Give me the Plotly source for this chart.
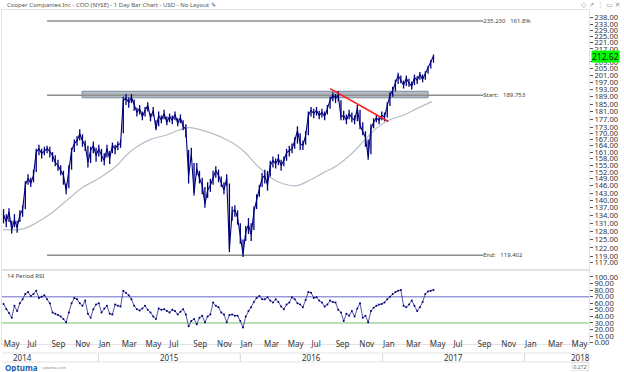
import math
import pandas as pd
import plotly.graph_objects as go

# ---------------- data ----------------
week_dates = pd.date_range("2014-05-02", periods=159, freq="7D")

close = [
    134.3, 131.6, 135.4, 128.6, 132.4, 129.3, 134.3, 136.2, 146.3, 149.2,
    147.1, 150.5, 161.0, 162.6, 160.3, 161.7, 162.6, 161.2, 159.4, 156.2,
    154.9, 152.6, 150.5, 144.2, 153.5, 161.7, 165.0, 166.4, 169.8, 166.4,
    164.1, 156.2, 161.7, 164.1, 159.4, 162.6, 159.4, 157.1, 162.6, 158.0,
    164.1, 162.6, 164.5, 165.0, 187.0, 188.1, 185.9, 188.6, 184.8, 180.6,
    182.7, 178.3, 181.6, 184.3, 177.8, 181.6, 172.3, 179.0, 176.5, 180.0,
    175.5, 178.5, 176.5, 179.5, 175.0, 177.8, 173.4, 172.0, 150.0, 160.0,
    143.0, 153.5, 149.2, 146.3, 138.5, 144.2, 146.3, 149.2, 152.6, 150.5,
    147.5, 144.2, 149.2, 121.5, 135.4, 136.2, 133.1, 126.8, 119.8, 127.8,
    130.5, 126.8, 135.4, 140.2, 144.2, 149.2, 150.5, 146.3, 154.9, 157.1,
    155.7, 158.0, 154.9, 157.1, 160.7, 161.7, 162.6, 166.4, 171.3, 165.0,
    164.1, 168.8, 179.0, 181.6, 180.0, 181.6, 179.0, 180.6, 178.5, 182.7,
    187.0, 189.8, 188.1, 189.8, 178.3, 179.0, 176.5, 180.0, 177.8, 176.5,
    182.7, 174.0, 171.3, 167.9, 158.8, 172.3, 175.5, 177.8, 176.5, 179.0,
    178.3, 184.3, 189.8, 192.5, 196.9, 201.0, 198.2, 195.4, 199.3, 196.5,
    194.8, 199.9, 198.2, 201.6, 198.7, 202.2, 205.2, 208.7, 212.62,
]

high = [
    136.5, 134.5, 136.8, 132.0, 134.5, 132.0, 136.0, 138.0, 148.0, 151.0,
    149.5, 153.0, 162.5, 164.5, 162.5, 163.5, 164.0, 163.5, 161.0, 159.5,
    157.5, 155.0, 152.5, 147.0, 155.0, 163.0, 167.0, 168.5, 172.0, 169.5,
    166.5, 164.0, 163.5, 166.0, 163.0, 164.5, 162.5, 160.5, 164.5, 161.5,
    165.5, 164.5, 166.0, 167.0, 189.0, 190.5, 188.5, 190.5, 187.5, 183.0,
    184.5, 181.0, 183.5, 186.0, 180.0, 183.5, 176.5, 181.0, 179.0, 182.0,
    178.5, 180.0, 179.0, 181.0, 177.5, 179.5, 176.5, 174.5, 162.0, 163.0,
    156.0, 156.0, 152.5, 149.5, 145.5, 147.5, 149.0, 152.5, 154.5, 153.0,
    150.0, 147.5, 151.0, 147.0, 137.5, 138.0, 136.0, 131.0, 125.0, 130.0,
    133.0, 131.0, 137.5, 142.5, 146.5, 151.5, 153.0, 152.5, 157.0, 159.0,
    158.0, 160.0, 157.5, 159.0, 162.5, 164.0, 165.0, 168.0, 173.5, 170.0,
    166.5, 171.0, 181.0, 183.5, 182.5, 183.5, 181.5, 182.5, 181.0, 184.5,
    189.0, 191.5, 190.5, 192.0, 187.0, 181.5, 179.5, 182.0, 180.5, 179.0,
    184.5, 182.0, 175.5, 171.0, 167.0, 174.5, 177.5, 179.5, 178.5, 181.0,
    180.5, 186.0, 191.5, 194.5, 198.5, 202.5, 201.0, 198.0, 201.0, 199.0,
    197.5, 201.5, 200.5, 203.0, 201.5, 203.5, 206.5, 210.0, 213.5,
]

low = [
    131.0, 129.5, 131.5, 127.2, 129.5, 127.5, 131.5, 133.5, 136.5, 146.5,
    145.5, 147.5, 152.0, 159.5, 158.0, 159.5, 160.5, 158.5, 156.5, 154.5,
    152.5, 150.5, 146.5, 142.5, 145.0, 153.0, 161.0, 164.0, 166.5, 163.5,
    161.5, 154.0, 156.0, 160.5, 156.5, 159.0, 156.5, 155.0, 158.5, 155.5,
    160.5, 160.0, 162.0, 163.0, 170.0, 184.5, 183.0, 185.5, 181.5, 178.5,
    179.5, 176.5, 178.5, 181.0, 176.0, 178.5, 171.5, 173.5, 175.0, 177.0,
    174.0, 175.5, 174.5, 176.5, 173.5, 175.0, 171.5, 168.0, 147.0, 157.5,
    142.0, 150.5, 147.0, 142.5, 137.0, 141.0, 143.5, 146.5, 149.5, 147.5,
    145.5, 142.5, 146.0, 120.5, 132.0, 133.5, 130.5, 123.5, 118.8, 124.5,
    127.0, 124.5, 128.5, 136.5, 141.5, 145.5, 147.0, 144.0, 150.0, 154.0,
    153.5, 155.0, 152.5, 154.5, 157.0, 159.0, 160.5, 162.5, 165.0, 162.0,
    162.0, 164.5, 169.0, 178.5, 177.5, 179.0, 177.0, 178.0, 176.5, 179.5,
    182.5, 186.5, 185.5, 186.5, 176.5, 176.5, 174.5, 177.0, 175.5, 174.5,
    176.0, 172.0, 169.0, 163.5, 157.5, 160.0, 172.5, 175.5, 174.5, 176.5,
    176.0, 178.0, 184.0, 189.0, 192.0, 196.0, 196.5, 193.5, 195.0, 194.5,
    193.0, 195.5, 196.0, 198.5, 197.0, 198.5, 202.0, 205.0, 208.5,
]

rsi = [
    59, 51, 45, 38, 56, 48, 60, 66, 74, 77,
    71, 74, 79, 68, 70, 72, 66, 60, 46, 44,
    42, 40, 36, 31, 46, 60, 68, 66, 60, 56,
    64, 44, 38, 51, 58, 60, 46, 52, 56, 44,
    43, 58, 56, 55, 79, 76, 72, 66, 56, 51,
    49, 52, 56, 50, 46, 40, 36, 52, 50, 51,
    48, 46, 50, 48, 43, 47, 51, 43, 25, 33,
    36, 28, 38, 41, 31, 40, 43, 61, 56, 54,
    46, 43, 31, 42, 43, 41, 41, 33, 23, 40,
    48, 54, 62, 68, 71, 66, 66, 69, 64, 61,
    66, 62, 55, 51, 58, 61, 69, 66, 60, 58,
    54, 65, 77, 76, 68, 69, 64, 61, 55, 58,
    64, 62, 61, 50, 46, 33, 44, 41, 48, 40,
    52, 60, 38, 41, 31, 48, 53, 56, 58, 59,
    61, 66, 70, 74, 77, 79, 80, 56, 54, 58,
    64, 56, 48, 54, 62, 74, 78, 79, 80,
]

ma_dates = [
    "2014-05-01", "2014-06-21", "2014-07-17", "2014-08-30", "2014-10-13",
    "2014-11-23", "2015-01-05", "2015-02-18", "2015-03-16", "2015-04-11",
    "2015-05-14", "2015-06-27", "2015-08-07", "2015-08-25", "2015-10-15",
    "2015-12-06", "2016-01-08", "2016-02-13", "2016-03-18", "2016-04-20",
    "2016-05-26", "2016-06-29", "2016-08-01", "2016-09-06", "2016-10-09",
    "2016-11-12", "2016-12-18", "2017-01-20", "2017-02-23", "2017-03-31",
    "2017-05-08",
]
ma_values = [
    128.6, 128.9, 130.5, 134.6, 140.2,
    145.5, 149.5, 155.0, 159.9, 163.6,
    166.9, 169.3, 172.3, 172.8, 170.3,
    166.0, 161.7, 154.9, 149.7, 146.9,
    146.1, 148.5, 151.6, 154.9, 159.5,
    165.9, 172.8, 176.8, 179.1, 182.7,
    186.3,
]

level_values = [235.230, 189.753, 119.402]
level_texts = ["235.230   161.8%", "Start:   189.753", "End:   119.402"]
level_dates = ["2014-08-22", "2017-09-17"]

band_dates = ["2014-11-20", "2017-04-28"]
band_values = [188.4, 192.0]

trend_dates = ["2016-08-19", "2017-01-16"]
trend_values = [193.5, 175.9]

last_price = 212.62

price_ticks = [238, 233, 229, 225, 221, 217, 209, 205, 201, 197, 193, 189, 185,
               181, 177, 173, 170, 167, 164, 161, 158, 155, 152, 149, 146, 143,
               140, 137, 134, 131, 128, 125, 122, 119, 117]
rsi_ticks = [0, 10, 20, 30, 40, 50, 60, 70, 80, 90, 100]
rsi_levels = [70, 30]

month_ticks = ["2014-05-01", "2014-07-01", "2014-09-01", "2014-11-01", "2015-01-01",
               "2015-03-01", "2015-05-01", "2015-07-01", "2015-09-01", "2015-11-01",
               "2016-01-01", "2016-03-01", "2016-05-01", "2016-07-01", "2016-09-01",
               "2016-11-01", "2017-01-01", "2017-03-01", "2017-05-01", "2017-07-01",
               "2017-09-01", "2017-11-01", "2018-01-01", "2018-03-01", "2018-05-01"]
month_labels = ["May", "Jul", "Sep", "Nov", "Jan", "Mar", "May", "Jul", "Sep", "Nov",
                "Jan", "Mar", "May", "Jul", "Sep", "Nov", "Jan", "Mar", "May", "Jul",
                "Sep", "Nov", "Jan", "Mar", "May"]
year_labels = ["2014", "2015", "2016", "2017", "2018"]
year_label_dates = ["2014-06-20", "2015-07-02", "2016-07-02", "2017-07-02", "2018-05-24"]
year_bounds = ["2015-01-01", "2016-01-01", "2017-01-01", "2018-01-01"]

x_range = ["2014-04-28", "2018-06-16"]

# ---------------- figure ----------------
FONT = "Noto Sans"
NAVY = "#00007c"

fig = go.Figure()

# resistance band
fig.add_trace(go.Scatter(
    x=[band_dates[0], band_dates[1], band_dates[1], band_dates[0], band_dates[0]],
    y=[band_values[0], band_values[0], band_values[1], band_values[1], band_values[0]],
    fill="toself", fillcolor="rgba(150,163,176,0.75)",
    line=dict(color="#7f8b97", width=1), mode="lines",
    hoverinfo="skip", showlegend=False, xaxis="x", yaxis="y"))

# horizontal level lines
for v in level_values:
    fig.add_trace(go.Scatter(
        x=level_dates, y=[v, v], mode="lines",
        line=dict(color="#8c8c8c", width=1.5),
        hoverinfo="skip", showlegend=False, xaxis="x", yaxis="y"))

fig.add_trace(go.Scatter(
    x=[level_dates[1]] * len(level_values), y=level_values, text=level_texts,
    mode="text", textposition="middle right",
    textfont=dict(family=FONT, size=6, color="#444"),
    hoverinfo="skip", showlegend=False, xaxis="x", yaxis="y", cliponaxis=False))

# moving average
fig.add_trace(go.Scatter(
    x=ma_dates, y=ma_values, mode="lines",
    line=dict(color="#b6bec8", width=1.2, shape="spline"),
    hoverinfo="skip", showlegend=False, xaxis="x", yaxis="y"))

# price bars (weekly high-low range) + close line
fig.add_trace(go.Scatter(
    x=week_dates, y=close, mode="lines", line=dict(color=NAVY, width=1.1),
    error_y=dict(type="data", symmetric=False,
                 array=[h - c for h, c in zip(high, close)],
                 arrayminus=[c - l for c, l in zip(close, low)],
                 color=NAVY, thickness=1.3, width=0),
    showlegend=False, xaxis="x", yaxis="y"))

# red trendline
fig.add_trace(go.Scatter(
    x=trend_dates, y=trend_values, mode="lines", line=dict(color="#ff1a1a", width=1.5),
    hoverinfo="skip", showlegend=False, xaxis="x", yaxis="y"))

# RSI levels
fig.add_trace(go.Scatter(
    x=x_range, y=[rsi_levels[0]] * 2, mode="lines", line=dict(color="#9a9ad8", width=1.5),
    hoverinfo="skip", showlegend=False, xaxis="x2", yaxis="y2"))
fig.add_trace(go.Scatter(
    x=x_range, y=[rsi_levels[1]] * 2, mode="lines", line=dict(color="#a3d69c", width=1.5),
    hoverinfo="skip", showlegend=False, xaxis="x2", yaxis="y2"))

# RSI line
fig.add_trace(go.Scatter(
    x=week_dates, y=rsi, mode="lines+markers", line=dict(color="#2a2a90", width=0.8),
    marker=dict(size=2, color=NAVY),
    showlegend=False, xaxis="x2", yaxis="y2"))

# ---------------- layout ----------------
L, R, T, B = 2, 35, 10, 28
W, H = 624, 372
ph = H - T - B  # 334


def py(pix):
    """pixel row -> paper y"""
    return (H - B - pix) / ph


frame = "#e2e2e2"
shapes = []
for d in year_bounds:
    shapes.append(dict(type="line", xref="x2", yref="paper", x0=d, x1=d,
                       y0=py(353), y1=py(362), line=dict(color="#d8d8d8", width=1)))
for pix in (353, 362):
    shapes.append(dict(type="line", xref="paper", yref="paper", x0=0, x1=1,
                       y0=py(pix), y1=py(pix), line=dict(color="#e4e4e4", width=1)))

annotations = [
    dict(text="Cooper Companies Inc - COO (NYSE) - 1 Day Bar Chart - USD - No Layout \u270e",
         xref="paper", yref="paper", x=(5 - L) / (W - L - R), y=py(5),
         xanchor="left", yanchor="middle", showarrow=False,
         font=dict(family=FONT, size=6, color="#555")),
    dict(text="\u25c7 \u2197 \u22ee \u25ad \u2715", xref="paper", yref="paper",
         x=1.058, y=py(5), xanchor="right", yanchor="middle", showarrow=False,
         font=dict(family="DejaVu Sans", size=7, color="#9a9a9a")),
    dict(text="14 Period RSI", xref="paper", yref="paper", x=(5 - L) / (W - L - R),
         y=py(276), xanchor="left", yanchor="middle", showarrow=False,
         font=dict(family=FONT, size=6, color="#444")),
    dict(text=f"{last_price:.2f}", xref="paper", yref="y", x=1.004,
         y=math.log10(last_price), xanchor="left", yanchor="middle", showarrow=False,
         bgcolor="#00ff00", borderpad=0, font=dict(family=FONT, size=8.5, color="#111")),
    dict(text="<b>Optuma</b>", xref="paper", yref="paper", x=0.002, y=py(367),
         xanchor="left", yanchor="middle", showarrow=False,
         font=dict(family=FONT, size=8, color="#1b62b0")),
    dict(text="optuma.com", xref="paper", yref="paper", x=0.065, y=py(367),
         xanchor="left", yanchor="middle", showarrow=False,
         font=dict(family=FONT, size=4, color="#888")),
    dict(text="0.272'", xref="paper", yref="paper", x=1.0, y=py(366),
         xanchor="right", yanchor="middle", showarrow=False,
         font=dict(family=FONT, size=5, color="#666"), bordercolor="#ccc", borderwidth=0.5),
]
for lab, d in zip(year_labels, year_label_dates):
    annotations.append(dict(text=lab, xref="x2", yref="paper", x=d, y=py(357.5),
                            xanchor="center", yanchor="middle", showarrow=False,
                            font=dict(family=FONT, size=8, color="#333")))

fig.update_layout(
    width=W, height=H,
    margin=dict(l=L, r=R, t=T, b=B, autoexpand=False),
    paper_bgcolor="white", plot_bgcolor="white",
    font=dict(family=FONT, size=8, color="#333"),
    showlegend=False,
    xaxis=dict(domain=[0, 1], anchor="y", type="date", range=x_range,
               showticklabels=False, showgrid=False, zeroline=False,
               showline=True, linecolor=frame, mirror=True, ticks=""),
    yaxis=dict(domain=[py(269), 1], anchor="x", type="log", side="right",
               range=[math.log10(114.77), math.log10(242.9)],
               tickvals=price_ticks, ticktext=[f"{v:.2f}" for v in price_ticks],
               ticks="outside", ticklen=3, tickcolor="#555",
               tickfont=dict(family=FONT, size=7.5, color="#333"),
               showgrid=False, zeroline=False, showline=True, linecolor=frame, mirror=True),
    xaxis2=dict(domain=[0, 1], anchor="y2", type="date", range=x_range,
                tickvals=month_ticks, ticktext=month_labels, ticks="", tickangle=0,
                ticklabelposition="outside right", ticklabelstandoff=-8,
                tickfont=dict(family=FONT, size=8, color="#333"),
                showgrid=False, zeroline=False, showline=True, linecolor=frame, mirror=True),
    yaxis2=dict(domain=[0, py(271)], anchor="x2", side="right", range=[-2, 109],
                tickvals=rsi_ticks, ticktext=[f"{v:.2f}" for v in rsi_ticks],
                ticks="outside", ticklen=3, tickcolor="#555",
                tickfont=dict(family=FONT, size=7.5, color="#333"),
                showgrid=False, zeroline=False, showline=True, linecolor=frame, mirror=True),
    shapes=shapes,
    annotations=annotations,
)

fig.write_html(
    "out.html",
    config={"displayModeBar": False},
    post_script="document.body.style.margin='0';document.body.style.overflow='hidden';",
)
